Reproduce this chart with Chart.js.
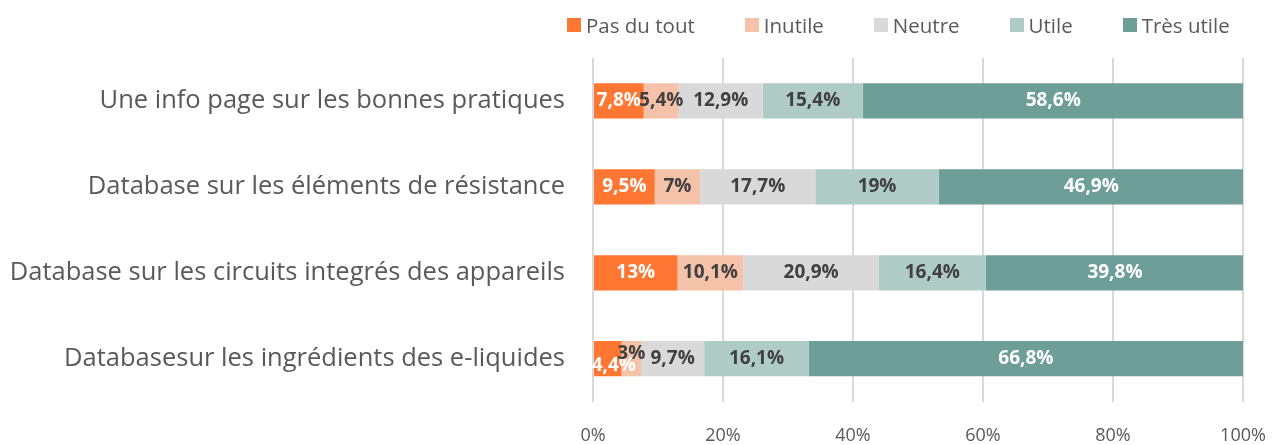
<!DOCTYPE html>
<html>
<head>
<meta charset="utf-8">
<script src="https://cdn.jsdelivr.net/npm/chart.js@4.4.1/dist/chart.umd.min.js"></script>
<style>
  html, body { margin: 0; padding: 0; background: #fff; overflow: hidden; }
  #wrap { position: relative; width: 1275px; height: 445px; }
  #legende {
    position: absolute; top: 0; left: 567px; height: 50px;
    display: flex; align-items: center;
    font-family: 'Open Sans', sans-serif; font-size: 20.5px; color: #595959;
  }
  #legende .item { display: flex; align-items: center; margin-right: 50px; white-space: nowrap; }
  #legende .carre { width: 14px; height: 14px; margin-right: 5px; }
</style>
</head>
<body>
<div id="wrap">
  <div id="legende"></div>
  <canvas id="barresChart"></canvas>
</div>
<script>
// donnees du graphique
const categories = [
  "Une info page sur les bonnes pratiques",
  "Database sur les éléments de résistance",
  "Database sur les circuits integrés des appareils",
  "Databasesur les ingrédients des e-liquides"
];
const seriesNames = ["Pas du tout", "Inutile", "Neutre", "Utile", "Très utile"];
const pasDuTout = [7.8, 9.5, 13, 4.4];
const inutile = [5.4, 7, 10.1, 3];
const neutre = [12.9, 17.7, 20.9, 9.7];
const utile = [15.4, 19, 16.4, 16.1];
const tresUtile = [58.6, 46.9, 39.8, 66.8];
const xTicks = [0, 20, 40, 60, 80, 100];

const couleurs = ['#FF7733', '#F4C2A8', '#D9D9D9', '#AFCBC6', '#6E9E98'];
const couleursTexte = ['#ffffff', '#404040', '#404040', '#404040', '#ffffff'];

const ctx = document.getElementById('barresChart');
const police = "'Open Sans', sans-serif";

const valeurs = [pasDuTout, inutile, neutre, utile, tresUtile];

// legende en html
const legende = document.getElementById('legende');
seriesNames.forEach((nom, i) => {
  const item = document.createElement('div');
  item.className = 'item';
  if (i === seriesNames.length - 1) item.style.marginRight = '0';
  item.innerHTML = '<span class="carre" style="background:' + couleurs[i] + '"></span>' + nom;
  legende.appendChild(item);
});

// petit plugin pour les etiquettes dans les barres
const etiquettes = {
  id: 'etiquettes',
  afterDatasetsDraw(chart) {
    const c = chart.ctx;
    c.save();
    c.font = "bold 19px " + police;
    c.textAlign = 'center';
    c.textBaseline = 'middle';
    chart.data.datasets.forEach((ds, i) => {
      const meta = chart.getDatasetMeta(i);
      meta.data.forEach((bar, j) => {
        const v = ds.data[j];
        let x = (bar.x + bar.base) / 2;
        let y = bar.y;
        // decalage comme dans l'original pour les petites valeurs
        if (j === 3 && i === 0) { x += 6; y += 7; }
        if (j === 3 && i === 1) { y -= 5; }
        c.fillStyle = couleursTexte[i];
        c.fillText(String(v).replace('.', ',') + '%', x, y);
      });
    });
    c.restore();
  }
};

new Chart(ctx, {
  type: 'bar',
  data: {
    labels: categories,
    datasets: seriesNames.map((nom, i) => ({
      label: nom,
      data: valeurs[i],
      backgroundColor: couleurs[i],
      borderWidth: 0,
      barPercentage: 0.41,
      categoryPercentage: 1
    }))
  },
  options: {
    indexAxis: 'y',
    responsive: true,
    maintainAspectRatio: false,
    animation: false,
    layout: { padding: { top: 58, right: 0, left: 0, bottom: 0 } },
    scales: {
      x: {
        stacked: true,
        min: 0,
        max: 100,
        afterBuildTicks: (axis) => { axis.ticks = xTicks.map(v => ({ value: v })); },
        afterFit: (axis) => {
          axis.height = 42;
          axis.paddingLeft = 0;
          axis.paddingRight = 32;
        },
        grid: { color: '#D9D9D9', lineWidth: 2, drawTicks: false },
        border: { display: false },
        ticks: {
          padding: 25,
          maxRotation: 0,
          color: '#595959',
          font: { family: police, size: 18, lineHeight: 1 },
          callback: (v) => v + '%'
        }
      },
      y: {
        stacked: true,
        afterFit: (axis) => { axis.width = 593; },
        grid: { display: false, drawTicks: false },
        border: { display: false },
        ticks: {
          padding: 28,
          color: '#595959',
          font: { family: police, size: 25.5 }
        }
      }
    },
    plugins: {
      legend: { display: false },
      tooltip: { enabled: false }
    }
  },
  plugins: [etiquettes]
});
</script>
</body>
</html>
